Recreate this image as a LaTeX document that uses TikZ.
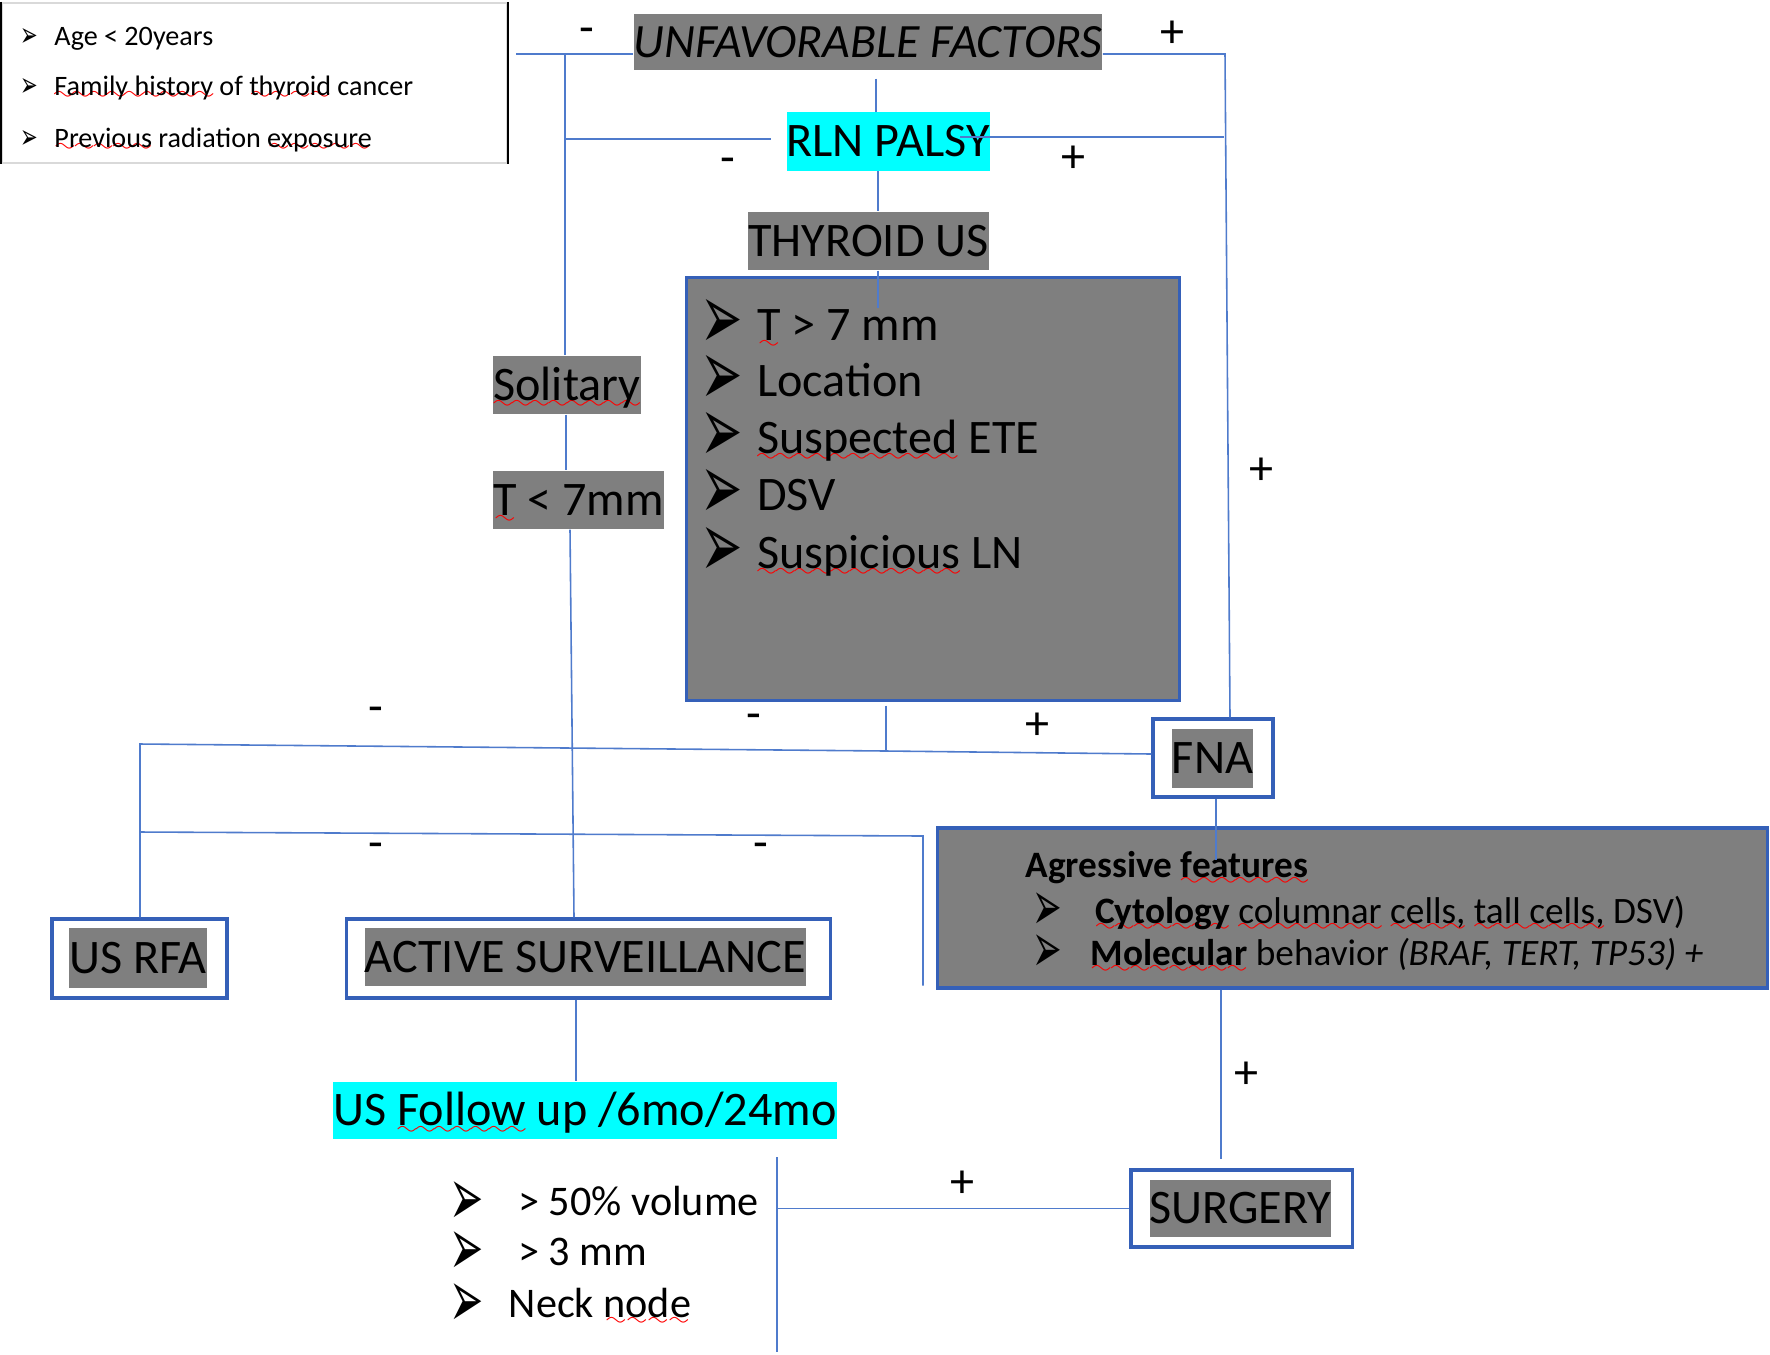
\documentclass[tikz,border=0pt]{standalone}
\usepackage{fontspec}
\setmainfont{Carlito}
\newfontfamily\arrowfont{DejaVu Sans}
\usepackage{xcolor}
\usetikzlibrary{positioning,calc}

\definecolor{boxgray}{HTML}{7F7F7F}
\definecolor{lineblue}{HTML}{4F7BCC}
\definecolor{edgeblue}{HTML}{3560B8}
\definecolor{hicyan}{HTML}{00FFFF}

\newcommand\bigtxt{\fontsize{13.7}{16}\selectfont}
\newcommand\listtxt{\fontsize{12}{14}\selectfont}
\newcommand\midtxt{\fontsize{10.6}{12}\selectfont}
\newcommand\smalltxt{\fontsize{8}{9.5}\selectfont}

% red wavy underline
\font\wavefont=lasy6
\newcommand\sqw[2]{\setbox0\hbox{#2}\rlap{\lower#1\hbox to\wd0{\color{red}\xleaders\hbox{\wavefont\char58}\hfill}}\box0\relax}
\newcommand\sq[1]{\sqw{2.4pt}{#1}}
\newcommand\sqs[1]{\sqw{1.4pt}{#1}}
% bullet: x scale, y scale, drop, width
\newcommand\bul[4]{\makebox[#4][l]{\raisebox{-#3}{\scalebox{#1}[#2]{\arrowfont ➢}}}}

\begin{document}
\begin{tikzpicture}[x=0.01cm, y=-0.01cm,
    conn/.style={draw=lineblue, line width=0.45pt},
    hl/.style={fill=boxgray, inner sep=0pt, text height=8.8pt, text depth=0pt, font=\bigtxt},
    cyanhl/.style={hl, fill=hicyan},
    frame/.style={draw=edgeblue, line width=0.9pt, fill=white, inner sep=0pt},
    sign/.style={font=\bigtxt, inner sep=0pt},
    item/.style={anchor=base west, inner sep=0pt}]
    \useasboundingbox (0,0) rectangle (1770,1354);

    % Legend
    \node[draw=gray!30, line width=0.6pt, minimum width=5.05cm, minimum height=1.6cm, inner sep=0pt] (legend) at (254.5,83) {};
    \draw[line width=0.7pt] (legend.north west) -- (legend.south west);
    \draw[line width=0.7pt] (legend.north east) -- (legend.south east);
    \node[item, font=\smalltxt] (age) at (20,45) {\bul{0.75}{1.2}{0.05em}{1.2em}Age < 20years};
    \node[item, font=\smalltxt] (family) at (20,95) {\bul{0.75}{1.2}{0.05em}{1.2em}\sqs{Family history} of \sqs{thyroid} cancer};
    \node[item, font=\smalltxt] (radiation) at (20,147) {\bul{0.75}{1.2}{0.05em}{1.2em}\sqs{Previous} radiation \sqs{exposure}};

    % Top of the tree
    \node[hl, font=\fontsize{13.6}{16}\selectfont\itshape, minimum width=4.68cm, minimum height=0.56cm] (unfav) at (868,42) {UNFAVORABLE FACTORS};
    \node[cyanhl, minimum width=2.02cm, minimum height=0.58cm] (rln) at (888,141.5) {RLN PALSY};
    \node[hl, minimum width=2.37cm, minimum height=0.58cm] (thyroid) at (868.5,241) {THYROID US};

    % Ultrasound findings
    \node[fill=boxgray, draw=edgeblue, line width=0.9pt, minimum width=4.92cm, minimum height=4.22cm, inner sep=0pt] (findings) at (933,489) {};
    \node[item, font=\bigtxt] (tbig) at (700,340) {\bul{1.05}{1.95}{0.2em}{1.17em}\sq{T} > 7 mm};
    \node[item, font=\bigtxt] (location) at (700,396) {\bul{1.05}{1.95}{0.2em}{1.17em}Location};
    \node[item, font=\bigtxt] (ete) at (700,453) {\bul{1.05}{1.95}{0.2em}{1.17em}\sq{Suspected} ETE};
    \node[item, font=\bigtxt] (dsv) at (700,510) {\bul{1.05}{1.95}{0.2em}{1.17em}DSV};
    \node[item, font=\bigtxt] (ln) at (700,568) {\bul{1.05}{1.95}{0.2em}{1.17em}\sq{Suspicious} LN};

    % Low risk branch
    \node[hl, minimum width=1.46cm, minimum height=0.58cm] (solitary) at (567,385) {\sq{Solitary}};
    \node[hl, minimum width=1.69cm, minimum height=0.58cm] (tsmall) at (578.5,500) {\sq{T} < 7mm};

    % Treatments
    \node[frame, minimum width=1.75cm, minimum height=0.79cm] (rfa) at (139.5,958.5) {};
    \node[hl, minimum width=1.36cm, minimum height=0.6cm] (rfa text) at (138,958) {US RFA};
    \node[frame, minimum width=4.83cm, minimum height=0.79cm] (active) at (588.5,958.5) {};
    \node[hl, minimum width=4.39cm, minimum height=0.58cm] (active text) at (585.5,957) {ACTIVE SURVEILLANCE};
    \node[frame, minimum width=1.2cm, minimum height=0.78cm] (fna) at (1213,758) {};
    \node[hl, minimum width=0.79cm, minimum height=0.59cm] (fna text) at (1212.5,758.5) {FNA};
    \node[frame, minimum width=2.21cm, minimum height=0.77cm] (surgery) at (1241.5,1208.5) {};
    \node[hl, minimum width=1.79cm, minimum height=0.57cm] (surgery text) at (1240.5,1208.5) {SURGERY};

    % Aggressive features
    \node[fill=boxgray, draw=edgeblue, line width=0.9pt, minimum width=8.29cm, minimum height=1.6cm, inner sep=0pt] (aggr) at (1352.5,908) {};
    \node[item, font=\midtxt] (aggr title) at (1025,877) {\textbf{Agressive \sq{features}}};
    \node[item, font=\midtxt] (cytology) at (1032,923) {\bul{0.95}{1.9}{0.21em}{1.45em}\ \textbf{\sq{Cytology}} \sq{columnar} \sq{cells,} \sq{tall cells,} DSV)};
    \node[item, font=\midtxt] (molecular) at (1032,965) {\bul{0.95}{1.9}{0.21em}{1.55em}\textbf{\sq{Molecular}} behavior \textit{(BRAF, TERT, TP53) +}};

    % Follow up
    \node[cyanhl, minimum width=5cm, minimum height=0.57cm] (follow) at (585,1110.5) {US \sq{Follow} up /6mo/24mo};
    \node[item, font=\listtxt] (volume) at (449,1215) {\bul{0.97}{1.95}{0.26em}{1.4em}\ > 50\% volume};
    \node[item, font=\listtxt] (growth) at (449,1265) {\bul{0.97}{1.95}{0.26em}{1.4em}\ > 3 mm};
    \node[item, font=\listtxt] (neck) at (449,1317) {\bul{0.97}{1.95}{0.26em}{1.4em}Neck \sq{node}};

    % Signs
    \node[sign] (m1) at (587,36) {-};
    \node[sign] (p1) at (1172,34) {+};
    \node[sign] (m2) at (728,166) {-};
    \node[sign] (p2) at (1073,159) {+};
    \node[sign] (p3) at (1261,471) {+};
    \node[sign] (m3) at (376,715) {-};
    \node[sign] (m4) at (754,722) {-};
    \node[sign] (p4) at (1037,726) {+};
    \node[sign] (m5) at (376,851) {-};
    \node[sign] (m6) at (761,851) {-};
    \node[sign] (p5) at (1246,1075) {+};
    \node[sign] (p6) at (962,1184) {+};

    % Connectors
    \coordinate (uL) at (516,54);
    \coordinate (uJ) at (565,54);
    \coordinate (uR) at (1225,54);
    \coordinate (rJ) at (565,139);
    \coordinate (rR) at (1224,137);
    \coordinate (fJ) at (886,751);
    \coordinate (lU) at (140,744);
    \coordinate (lL) at (140,832);
    \coordinate (aJ) at (923,836);
    \coordinate (sT) at (777,1157);
    \coordinate (sB) at (777,1352);

    \draw[conn] (uL) -- (uL -| unfav.west);
    \draw[conn] (uJ) -- (uJ |- solitary.north);
    \draw[conn] (uR -| unfav.east) -- (uR) -- ($(fna.north)+(17,0)$);
    \draw[conn] ($(unfav.south)+(8,8)$) -- ($(rln.north)+(-12,0)$);
    \draw[conn] (rJ) -- ($(rln.west)+(-15,-2.5)$);
    \draw[conn] ($(rln.east)+(-30,-4.5)$) -- (rR);
    \draw[conn] ($(rln.south)+(-10,0)$) -- ($(thyroid.north)+(9.5,0)$);
    \draw[conn] ($(thyroid.south)+(9.5,0)$) -- ++(0,37);
    \draw[conn] ($(solitary.south)+(-1,0)$) -- ($(tsmall.north)+(-12.5,0)$);
    \draw[conn] ($(tsmall.south)+(-8.5,0)$) -- ($(active.north)+(-14.5,0)$);
    \draw[conn] ($(fJ |- findings.south)+(0,4)$) -- (fJ);
    \draw[conn] (rfa.north -| lU) -- (lU) -- (fJ) -- ($(fna.west)+(0,-4)$);
    \draw[conn] (lL) -- (aJ) -- ($(aJ |- aggr.south)+(0,-4)$);
    \draw[conn] ($(fna.south)+(3,0)$) -- ++(0,61);
    \draw[conn] ($(aggr.south)+(-131.5,0)$) -- ($(surgery.north)+(-20.5,-9)$);
    \draw[conn] ($(active.south)+(-12.5,0)$) -- ($(follow.north)+(-9,0)$);
    \draw[conn] (sT) -- (sB);
    \draw[conn] (sT |- surgery.west) -- (surgery.west);
\end{tikzpicture}
\end{document}
